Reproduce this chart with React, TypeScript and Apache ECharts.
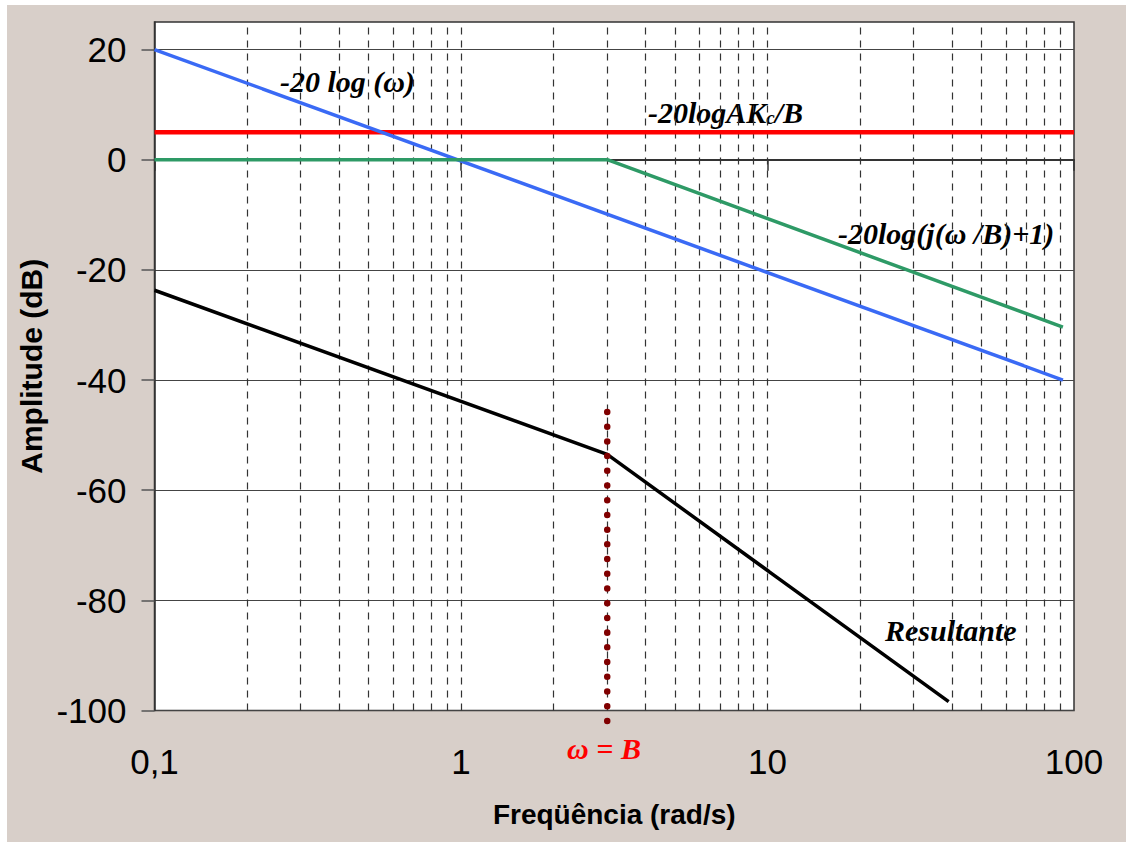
import React, { useEffect, useRef } from "react";
import * as echarts from "echarts";

// Bode magnitude plot: asymptotes and the resulting curve
const freqMin = 0.1;
const freqMax = 100;
const ampMin = -100;
const ampMax = 25;
const ampTicks = [-100, -80, -60, -40, -20, 0, 20];

// dashed vertical guide lines at 2..9 (and the decades) of every decade
const gridFreqs = [
  0.2, 0.3, 0.4, 0.5, 0.6, 0.7, 0.8, 0.9, 1,
  2, 3, 4, 5, 6, 7, 8, 9, 10,
  20, 30, 40, 50, 60, 70, 80, 90,
];

// [ω (rad/s), amplitude (dB)]
const gainLine = [[0.1, 5], [100, 5]]; // -20logAKc/B
const integratorLine = [[0.1, 20], [92, -40]]; // -20 log(ω)
const poleLine = [[0.1, 0], [3, 0], [92, -30.4]]; // -20log(j(ω/B)+1)
const resultLine = [[0.1, -23.7], [3, -53.5], [39, -98.4]]; // Resultante
const breakLine = [[3, -45.8], [3, -102.3]]; // ω = B

const sans = 'Arial, "Liberation Sans", Helvetica, sans-serif';
const serif = '"Times New Roman", "Liberation Serif", serif';
const annot = `italic bold 30px ${serif}`;

export default function App() {
  const ref = useRef<HTMLDivElement>(null);

  useEffect(() => {
    if (!ref.current) return;
    const chart = echarts.init(ref.current, undefined, { renderer: "svg" });

    const option: any = {
      animation: false,
      backgroundColor: "#d8cfc9",
      grid: {
        left: 147.5,
        right: 63,
        top: 17,
        bottom: 140.5,
        show: true,
        backgroundColor: "#ffffff",
        borderColor: "#333333",
        borderWidth: 1.5,
        outerBoundsMode: "none",
      },
      xAxis: {
        type: "log",
        logBase: 10,
        min: freqMin,
        max: freqMax,
        name: "Freqüência (rad/s)",
        nameLocation: "middle",
        nameGap: 90,
        nameMoveOverlap: false,
        nameTextStyle: { fontSize: 28, fontWeight: "bold", fontFamily: sans, color: "#000" },
        axisLine: { show: true, lineStyle: { color: "#333", width: 2 } },
        axisTick: { show: true, length: 11, lineStyle: { color: "#333", width: 1.5 } },
        axisLabel: {
          fontSize: 35,
          fontFamily: sans,
          color: "#000",
          margin: 33,
          formatter: (v: number) => (v < 0.5 ? "0,1" : String(Math.round(v))),
        },
        splitLine: { show: false },
        minorTick: { show: false },
      },
      yAxis: {
        type: "value",
        min: ampMin,
        max: ampMax,
        interval: 20,
        name: "Amplitude (dB)",
        nameLocation: "middle",
        nameGap: 108,
        nameMoveOverlap: false,
        nameTextStyle: { fontSize: 30, fontWeight: "bold", fontFamily: sans, color: "#000" },
        axisLine: { show: true, lineStyle: { color: "#333", width: 1.5 } },
        axisTick: {
          show: true,
          length: 13,
          customValues: ampTicks,
          lineStyle: { color: "#555", width: 1.5 },
        },
        axisLabel: {
          fontSize: 35,
          fontFamily: sans,
          color: "#000",
          margin: 28,
          customValues: ampTicks,
        },
        splitLine: { show: true, lineStyle: { color: "#444", width: 1.2 } },
      },
      series: [
        {
          type: "line",
          data: [],
          silent: true,
          markLine: {
            silent: true,
            z: 1,
            symbol: ["none", "none"],
            label: { show: false },
            lineStyle: { color: "#333", width: 1.2, type: [7, 6] },
            data: gridFreqs.map((f) => ({ xAxis: f })),
          },
        },
        {
          type: "line",
          data: gainLine,
          showSymbol: false,
          lineStyle: { color: "#ff0000", width: 4.5 },
        },
        {
          type: "line",
          data: integratorLine,
          showSymbol: false,
          lineStyle: { color: "#3a6af5", width: 3.5 },
        },
        {
          type: "line",
          data: poleLine,
          showSymbol: false,
          lineStyle: { color: "#2e9a66", width: 3.5 },
        },
        {
          type: "line",
          data: resultLine,
          showSymbol: false,
          lineStyle: { color: "#000000", width: 3.5 },
        },
        {
          type: "line",
          data: breakLine,
          showSymbol: false,
          clip: false,
          z: 4,
          lineStyle: { color: "#800000", width: 6.5, type: [0.01, 14.7], cap: "round" },
        },
      ],
      graphic: [
        {
          type: "text",
          x: 273,
          y: 76,
          style: { text: "-20 log (ω)", font: annot, fill: "#000", verticalAlign: "middle" },
        },
        {
          type: "text",
          x: 641,
          y: 107,
          style: {
            text: "{a|-20logAK}{s|c}{a|/B}",
            verticalAlign: "middle",
            rich: {
              a: { fontSize: 30, fontStyle: "italic", fontWeight: "bold", fontFamily: serif, fill: "#000" },
              s: {
                fontSize: 19,
                fontStyle: "italic",
                fontWeight: "bold",
                fontFamily: serif,
                fill: "#000",
                verticalAlign: "bottom",
              },
            },
          },
        },
        {
          type: "text",
          x: 831,
          y: 228,
          style: { text: "-20log(j(ω /B)+1)", font: annot, fill: "#000", verticalAlign: "middle" },
        },
        {
          type: "text",
          x: 878,
          y: 625,
          style: { text: "Resultante", font: annot, fill: "#000", verticalAlign: "middle" },
        },
        {
          type: "text",
          x: 597,
          y: 743,
          style: { text: "ω = B", font: annot, fill: "#ff0000", align: "center", verticalAlign: "middle" },
        },
      ],
    };

    chart.setOption(option);
    return () => chart.dispose();
  }, []);

  return (
    <div
      ref={ref}
      style={{ position: "fixed", left: 7, top: 5, width: 1130, height: 846 }}
    />
  );
}
